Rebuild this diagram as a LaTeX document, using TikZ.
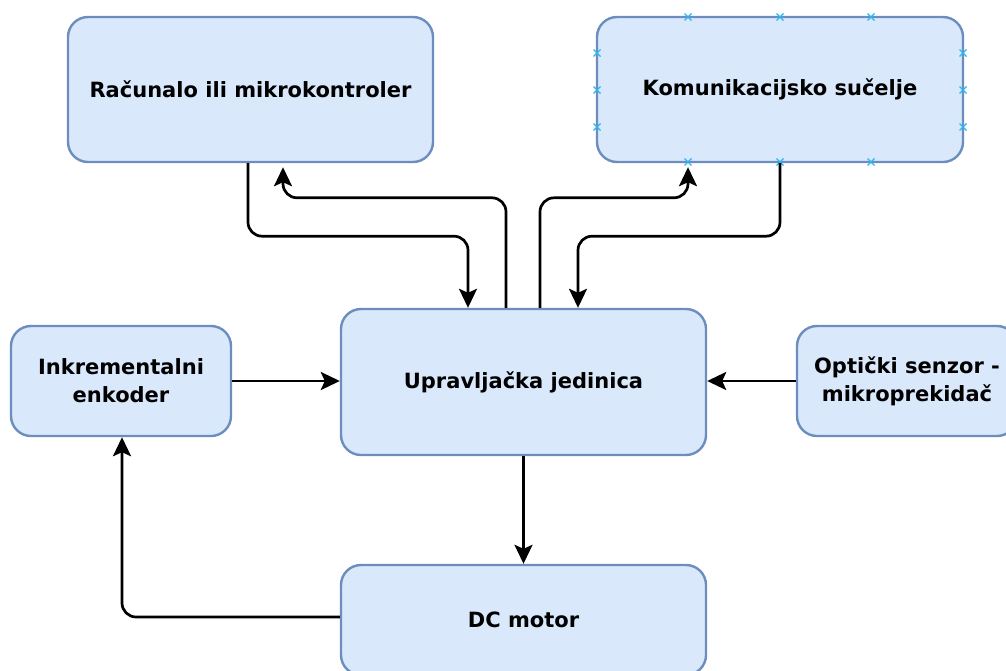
\documentclass[tikz,border=0pt]{standalone}
\usepackage{fontspec}
\setmainfont{DejaVu Sans}
\usetikzlibrary{arrows.meta}
\definecolor{boxfill}{HTML}{DAE8FC}
\definecolor{boxline}{HTML}{6C8EBF}
\definecolor{ptblue}{HTML}{29B6F2}
\begin{document}
\begin{tikzpicture}[x=1pt,y=-1pt,
  block/.style={draw=boxline, fill=boxfill, line width=2.4pt, rounded corners=20pt,
    align=center, font=\fontsize{21}{28}\selectfont\bfseries, inner sep=0pt},
  conn/.style={draw=black, line width=2.7pt, rounded corners=14pt,
    -{Stealth[length=19pt,width=18pt,inset=4pt]}},
  ptmark/.style={draw=ptblue, line width=1.2pt}]
\useasboundingbox (0,0) rectangle (1006,670);
\clip (0,0) rectangle (1006,670);
\node[block, minimum width=365pt, minimum height=145pt] (rac) at (250.5,89.5) {Računalo ili mikrokontroler};
\node[block, minimum width=366pt, minimum height=145pt] (kom) at (780,89.5) {Komunikacijsko sučelje};
\node[block, minimum width=365pt, minimum height=146pt] (upr) at (523.5,382) {Upravljačka jedinica};
\node[block, minimum width=220pt, minimum height=110pt] (ink) at (121,381) {Inkrementalni\\enkoder};
\node[block, minimum width=220pt, minimum height=110pt] (opt) at (907,381) {Optički senzor -\\mikroprekidač};
\node[block, minimum width=365pt, minimum height=110pt] (dc) at (523.5,620) {DC motor};
% connection point marks on kom
\foreach \px/\py in {688/17,780/17,871/17,688/162,780/162,871/162,597/53,597/90,597/127,963/53,963/90,963/127}{
  \draw[ptmark] (\px-3.5,\py-3.5) -- (\px+3.5,\py+3.5) (\px-3.5,\py+3.5) -- (\px+3.5,\py-3.5);
}
% connectors
\draw[conn] ([xshift=-2.5pt]rac.south) -- ++(0,73) -| ([xshift=-55.5pt]upr.north);
\draw[conn] ([xshift=-17.5pt]upr.north) -- ++(0,-110) -| ([xshift=32.5pt,yshift=-4pt]rac.south);
\draw[conn] ([xshift=16.5pt]upr.north) -- ++(0,-110) -| ([xshift=-92pt,yshift=-4pt]kom.south);
\draw[conn] (kom.south) -- ++(0,73) -| ([xshift=54.5pt]upr.north);
\draw[conn] (ink.east) -- (ink.east -| upr.west);
\draw[conn] (opt.west) -- (opt.west -| upr.east);
\draw[conn] (upr.south) -- (dc.north);
\draw[conn] ([yshift=3pt]dc.west) -| ([xshift=1pt]ink.south);
\end{tikzpicture}
\end{document}
